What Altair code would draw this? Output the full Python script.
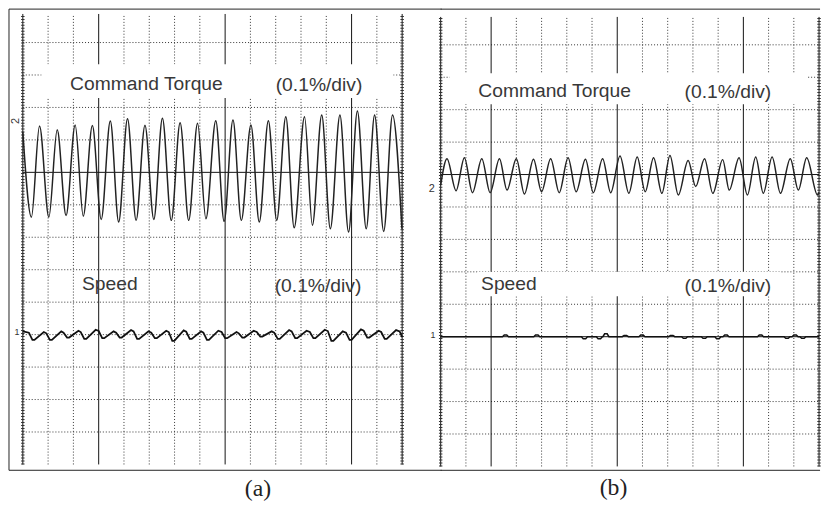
import altair as alt
import pandas as pd

# ---------------- values (grid-division units) ----------------
# panel (a) command torque: alternating extremes (x = horizontal division, y = vertical division)
torque_a_x = [0.00, 0.34, 0.66, 1.03, 1.36, 1.71, 2.07, 2.39, 2.75, 3.10, 3.46, 3.79, 4.14, 4.48, 4.83,
              5.18, 5.52, 5.87, 6.22, 6.56, 6.91, 7.24, 7.63, 7.96, 8.31, 8.64, 9.02, 9.35, 9.71, 10.04,
              10.40, 10.73, 11.14, 11.45, 11.82, 12.16, 12.54, 12.88, 13.23, 13.58, 13.91, 14.27, 14.62, 14.99]
torque_a_y = [10.25, 7.62, 10.43, 7.62, 10.31, 7.67, 10.46, 7.65, 10.44, 7.55, 10.58, 7.47, 10.65, 7.52, 10.45,
              7.55, 10.67, 7.52, 10.53, 7.52, 10.51, 7.57, 10.59, 7.49, 10.61, 7.52, 10.46, 7.47, 10.59, 7.52,
              10.71, 7.29, 10.71, 7.37, 10.77, 7.26, 10.77, 7.16, 10.89, 7.26, 10.77, 7.18, 10.77, 7.26]

# panel (a) speed: dip positions, dip levels and the level reached after each dip
speed_a_dip_x = [0.38, 1.07, 1.75, 2.43, 3.14, 3.83, 4.52, 5.22, 5.91, 6.60, 7.28, 8.00, 8.68, 9.39,
                 10.08, 10.77, 11.49, 12.20, 12.92, 13.62, 14.31]
speed_a_low = [3.84, 3.84, 3.91, 3.87, 3.89, 3.91, 3.87, 3.89, 3.81, 3.87, 3.84, 3.89, 3.91, 3.94,
               3.87, 3.89, 3.89, 3.81, 3.84, 3.91, 3.87]
speed_a_high = [4.08, 4.10, 4.12, 4.15, 4.10, 4.14, 4.10, 4.12, 4.13, 4.10, 4.12, 4.08, 4.12, 4.10,
                4.14, 4.12, 4.15, 4.10, 4.16, 4.12, 4.14]

# panel (b) command torque: alternating extremes
torque_b_x = [0.00, 0.25, 0.61, 0.94, 1.26, 1.63, 1.96, 2.33, 2.63, 3.00, 3.32, 3.68, 4.00, 4.36, 4.70,
              5.05, 5.37, 5.74, 6.05, 6.42, 6.74, 7.11, 7.46, 7.79, 8.11, 8.44, 8.77, 9.09, 9.42, 9.81,
              10.11, 10.46, 10.79, 11.18, 11.44, 11.83, 12.16, 12.49, 12.79, 13.14, 13.47, 13.86, 14.18,
              14.51, 14.94, 15.00]
torque_b_y = [8.67, 9.49, 8.50, 9.52, 8.44, 9.49, 8.44, 9.49, 8.52, 9.49, 8.40, 9.47, 8.47, 9.49, 8.44,
              9.52, 8.47, 9.47, 8.44, 9.49, 8.44, 9.57, 8.42, 9.54, 8.47, 9.52, 8.42, 9.59, 8.37, 9.43,
              8.63, 9.49, 8.42, 9.46, 8.52, 9.52, 8.37, 9.54, 8.42, 9.54, 8.42, 9.49, 8.52, 9.52, 8.37, 8.45]

# panel (b) speed: flat at the reference with small bumps (centre, height)
speed_b_bump_x = [2.57, 3.81, 5.70, 6.29, 6.55, 7.32, 7.98, 9.16, 9.67, 10.45, 10.99, 11.31, 12.68,
                  13.73, 14.05, 14.36]
speed_b_bump_h = [0.05, 0.05, -0.06, -0.06, 0.09, 0.04, 0.05, 0.04, -0.05, -0.05, -0.06, 0.05, 0.05,
                  -0.05, 0.05, -0.05]

# text
panel_labels = ["(a)", "(b)"]
trace_titles = ["Command Torque", "Speed"]
scale_text = "(0.1%/div)"
channel_marks = ["2", "1"]

# grid structure (divisions)
x_divs = list(range(0, 16))
y_divs = list(range(1, 14))
torque_ref = 9
speed_ref = 4
major_a = [3, 8, 13]
major_b = [2, 7, 12]

# ---------------- build tables ----------------
ta = pd.DataFrame({"x": torque_a_x, "y": torque_a_y})
tb = pd.DataFrame({"x": torque_b_x, "y": torque_b_y})

sa_pts = [(0.0, 4.10), (0.24, 4.06)]
for i, d in enumerate(speed_a_dip_x):
    nxt = speed_a_dip_x[i + 1] if i + 1 < len(speed_a_dip_x) else 15.04
    sa_pts += [(d, speed_a_low[i]), (d + 0.08, speed_a_low[i]),
               (d + 0.45, speed_a_high[i]), (nxt - 0.14, speed_a_high[i] - 0.04)]
sa_pts.append((15.0, 3.92))
sa = pd.DataFrame(sa_pts, columns=["x", "y"])

sb_pts = [(0.0, speed_ref)]
for c, h in zip(speed_b_bump_x, speed_b_bump_h):
    sb_pts += [(c - 0.12, speed_ref), (c - 0.05, speed_ref + h), (c + 0.05, speed_ref + h), (c + 0.12, speed_ref)]
sb_pts.append((15.0, speed_ref))
sb = pd.DataFrame(sb_pts, columns=["x", "y"])

INK = "#222222"
TXT = "#383838"
FONT = "Liberation Sans"


def panel(torque_df, speed_df, major, width, height, ytop, yrange, label, boxes, texts, marks,
          cap_pos, frame, solid_h, speed_width):
    xs = alt.Scale(domain=[0, 15], nice=False, zero=False)
    ys = alt.Scale(domain=[0, ytop], nice=False, zero=False, range=yrange)
    X = lambda f: alt.X(f, type="quantitative", scale=xs, axis=None)
    Y = lambda f: alt.Y(f, type="quantitative", scale=ys, axis=None)

    hd = pd.DataFrame({"y": [v for v in y_divs if v not in solid_h]})
    hd["x0"], hd["x1"] = 0, 15
    vd = pd.DataFrame({"x": [v for v in x_divs if v not in major and v not in (0, 15)]})
    vd["y0"], vd["y1"] = 0, ytop
    vs = pd.DataFrame({"x": major + [0, 15]})
    vs["y0"], vs["y1"] = 0, ytop
    ed = pd.DataFrame({"x": [0, 15]})
    ed["y0"], ed["y1"] = 0, ytop
    hs = pd.DataFrame({"y": solid_h})
    hs["x0"], hs["x1"] = 0, 15

    def hrule(df, **kw):
        return alt.Chart(df).mark_rule(clip=False, **kw).encode(
            y=Y("y"), x=X("x0"), x2=alt.X2("x1"))

    def vrule(df, **kw):
        return alt.Chart(df).mark_rule(clip=False, **kw).encode(
            x=X("x"), y=Y("y0"), y2=alt.Y2("y1"))

    layers = [
        hrule(hd, color="#333333", strokeDash=[1, 2], strokeWidth=1),
        vrule(vd, color="#333333", strokeDash=[1, 2], strokeWidth=1),
        vrule(vs, color="#111111", strokeWidth=1),
        vrule(ed, color="#333333", strokeWidth=3.5, strokeDash=[1, 2]),
        hrule(hs, color="#111111", strokeWidth=1),
    ]
    bx = pd.DataFrame(boxes, columns=["x0", "x1", "y0", "y1"])
    layers.append(alt.Chart(bx).mark_rect(color="white").encode(
        x=X("x0"), x2=alt.X2("x1"), y=Y("y0"), y2=alt.Y2("y1")))
    layers += [
        alt.Chart(torque_df).mark_line(color=INK, strokeWidth=1.5, interpolate="monotone").encode(
            x=X("x"), y=Y("y")),
        alt.Chart(speed_df).mark_line(color="#111111", strokeWidth=speed_width).encode(
            x=X("x"), y=Y("y")),
    ]
    tx = pd.DataFrame(texts, columns=["t", "x", "y"])
    layers.append(alt.Chart(tx).mark_text(font=FONT, fontSize=19.5, color=TXT, align="left",
                                          baseline="middle").encode(
        x=X("x"), y=Y("y"), text="t:N"))
    for (t, x, y, size, ang) in marks:
        md = pd.DataFrame({"t": [t], "x": [x], "y": [y]})
        if ang:
            mk = alt.Chart(md).mark_text(font=FONT, fontSize=size, color="#333333", align="center",
                                         baseline="middle", angle=ang)
        else:
            mk = alt.Chart(md).mark_text(font=FONT, fontSize=size, color="#333333", align="center",
                                         baseline="middle")
        layers.append(mk.encode(x=X("x"), y=Y("y"), text="t:N"))
    # outer frame (top & bottom, optional left)
    fl, fr, ft, fb = frame
    fh = pd.DataFrame({"y": [ft, fb], "x0": [fl, fl], "x1": [fr, fr]})
    layers.append(hrule(fh, color="#222222", strokeWidth=1))
    if fl < 0:
        fv = pd.DataFrame({"x": [fl], "y0": [fb], "y1": [ft]})
        layers.append(vrule(fv, color="#222222", strokeWidth=1))
    # panel caption
    cd = pd.DataFrame({"t": [label], "x": [cap_pos[0]], "y": [cap_pos[1]]})
    layers.append(alt.Chart(cd).mark_text(font="Liberation Serif", fontSize=24, color="#222222",
                                          align="center", baseline="middle").encode(
        x=X("x"), y=Y("y"), text="t:N"))

    return alt.layer(*layers).properties(width=width, height=height)


pa = panel(
    ta, sa, major_a, 384, 456, 13.88, [456, 0], panel_labels[0],
    boxes=[(0.74, 14.65, 11.29, 12.33)],
    texts=[(trace_titles[0], 1.87, 11.73), (scale_text, 10.0, 11.7),
           (trace_titles[1], 2.34, 5.56), (scale_text, 9.96, 5.5)],
    marks=[(channel_marks[0], -0.27, 10.58, 11, 270), (channel_marks[1], -0.23, 4.07, 9, 0)],
    cap_pos=(9.30, -0.76), frame=(-0.547, 16.56, 14.03, -0.18), solid_h=[torque_ref], speed_width=1.8,
)
pb = panel(
    tb, sb, major_b, 383, 458, 13.86, [458, 3], panel_labels[1],
    boxes=[(0.35, 14.56, 11.17, 12.12), (1.45, 13.45, 5.25, 6.0)],
    texts=[(trace_titles[0], 1.49, 11.58), (scale_text, 9.67, 11.55),
           (trace_titles[1], 1.60, 5.62), (scale_text, 9.67, 5.55)],
    marks=[(channel_marks[0], -0.35, 8.55, 11, 0), (channel_marks[1], -0.31, 4.05, 9, 0)],
    cap_pos=(6.85, -0.67), frame=(0.0, 15.04, 14.10, -0.12), solid_h=[torque_ref, speed_ref],
    speed_width=1.5,
)

chart = alt.hconcat(pa, pb, spacing=39, bounds="flush").properties(
    padding={"left": 0, "top": -3, "right": 0, "bottom": 0},
    background="white",
).configure_view(stroke=None)

chart.save("out.html", embed_options={"renderer": "svg", "actions": False})
